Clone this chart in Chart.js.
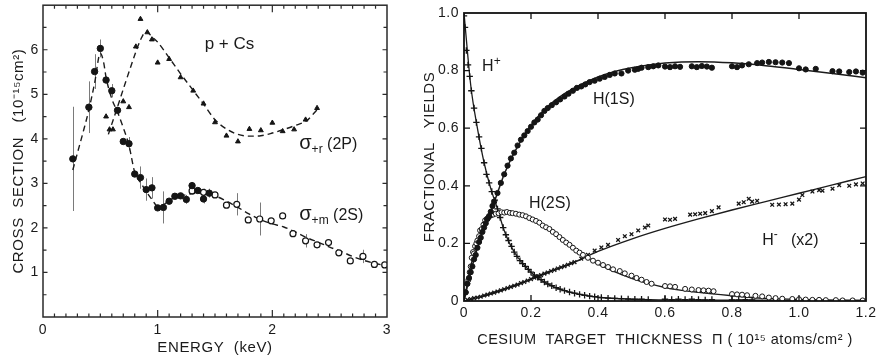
<!DOCTYPE html>
<html>
<head>
<meta charset="utf-8">
<script src="https://cdn.jsdelivr.net/npm/chart.js@4/dist/chart.umd.min.js"></script>
<style>
  html, body { margin: 0; padding: 0; background: #fff; }
  #wrap { position: relative; width: 879px; height: 360px; overflow: hidden; background: #fff; }
  #left { position: absolute; left: 0; top: 0; }
  #right { position: absolute; left: 420px; top: 0; }
</style>
</head>
<body>
<div id="wrap">
  <canvas id="left" width="420" height="360"></canvas>
  <canvas id="right" width="459" height="360"></canvas>
</div>
<script>
// ---------- p + Cs cross sections (energy keV, 10^-15 cm^2, +/- error) ----------
const sigma2sLow = [
  [0.26, 3.55, 1.17], [0.40, 4.71, 0.58], [0.45, 5.51, 0.39], [0.50, 6.03, 0.20],
  [0.55, 5.32, null], [0.60, 5.08, 0.15], [0.65, 4.64, null], [0.70, 3.94, null],
  [0.75, 3.89, 0.15], [0.80, 3.21, null], [0.85, 3.13, 0.25], [0.90, 2.86, 0.25],
  [0.95, 2.90, 0.24], [1.00, 2.45, null], [1.05, 2.46, 0.36], [1.10, 2.60, null],
  [1.15, 2.71, null], [1.20, 2.72, null], [1.25, 2.64, 0.10], [1.30, 2.95, 0.08],
  [1.35, 2.84, null], [1.40, 2.65, 0.10], [1.45, 2.78, 0.10]
];
const sigma2sHigh = [
  [1.30, 2.83, 0.08], [1.40, 2.80, 0.08], [1.50, 2.74, null], [1.60, 2.51, null],
  [1.69, 2.53, 0.25], [1.79, 2.18, null], [1.89, 2.20, 0.37], [1.99, 2.16, null],
  [2.09, 2.27, null], [2.18, 1.87, null], [2.29, 1.71, 0.15], [2.39, 1.62, null],
  [2.49, 1.67, null], [2.58, 1.44, null], [2.68, 1.26, null], [2.79, 1.36, 0.15],
  [2.89, 1.18, null], [2.98, 1.17, null]
];
const sigma2sFit = [
  [0.26, 3.30], [0.30, 3.68], [0.35, 4.15], [0.40, 4.65], [0.45, 5.25], [0.50, 5.92],
  [0.53, 5.70], [0.55, 5.38], [0.60, 4.90], [0.65, 4.60], [0.70, 4.25], [0.75, 3.85],
  [0.80, 3.25], [0.85, 3.02], [0.90, 2.82], [0.95, 2.64], [1.00, 2.49], [1.05, 2.52],
  [1.10, 2.62], [1.20, 2.71], [1.30, 2.77], [1.40, 2.78], [1.50, 2.72], [1.60, 2.60],
  [1.70, 2.46], [1.80, 2.31], [1.90, 2.18], [2.00, 2.09], [2.10, 2.02], [2.20, 1.91],
  [2.30, 1.78], [2.40, 1.68], [2.50, 1.57], [2.60, 1.47], [2.70, 1.36], [2.80, 1.27],
  [2.90, 1.20], [3.00, 1.15]
];
const sigma2p = [
  [0.55, 4.50], [0.58, 4.21], [0.61, 4.21], [0.70, 4.84], [0.75, 4.71], [0.81, 6.07],
  [0.85, 6.69], [0.91, 6.39], [0.95, 6.23], [1.00, 5.71], [1.10, 5.79], [1.20, 5.38],
  [1.31, 5.08], [1.40, 4.79], [1.50, 4.37], [1.60, 4.07], [1.70, 3.94], [1.80, 4.22],
  [1.90, 4.19], [2.00, 4.36], [2.09, 4.17], [2.19, 4.21], [2.29, 4.43], [2.39, 4.69]
];
const sigma2pFit = [
  [0.57, 4.10], [0.65, 4.72], [0.72, 5.27], [0.80, 5.88], [0.85, 6.22], [0.90, 6.41],
  [0.95, 6.29], [1.00, 6.17], [1.10, 5.82], [1.20, 5.46], [1.30, 5.12], [1.40, 4.78],
  [1.50, 4.43], [1.60, 4.22], [1.70, 4.10], [1.80, 4.06], [1.90, 4.07], [2.00, 4.13],
  [2.10, 4.21], [2.20, 4.30], [2.30, 4.41], [2.40, 4.68]
];
const energyTicks = [0, 1, 2, 3];
const sectionTicks = [1, 2, 3, 4, 5, 6];

// ---------- fractional yields vs Cs target thickness (10^15 atoms/cm^2) ----------
const hPlus = [
  [0.000, 0.99], [0.003, 0.95], [0.007, 0.87], [0.012, 0.82], [0.017, 0.78], [0.022, 0.73],
  [0.030, 0.67], [0.037, 0.62], [0.045, 0.57], [0.052, 0.53], [0.060, 0.48], [0.067, 0.44],
  [0.075, 0.41], [0.083, 0.38], [0.092, 0.35], [0.100, 0.32], [0.108, 0.29], [0.117, 0.255],
  [0.125, 0.23], [0.133, 0.21], [0.142, 0.19], [0.150, 0.17], [0.158, 0.155], [0.167, 0.14],
  [0.175, 0.13], [0.183, 0.12], [0.192, 0.11], [0.200, 0.10], [0.210, 0.09], [0.220, 0.082],
  [0.230, 0.074], [0.240, 0.066], [0.250, 0.059], [0.262, 0.053], [0.275, 0.046], [0.287, 0.041],
  [0.300, 0.036], [0.315, 0.031], [0.330, 0.027], [0.345, 0.023], [0.360, 0.020], [0.375, 0.017],
  [0.390, 0.015], [0.410, 0.012], [0.430, 0.010], [0.450, 0.009], [0.470, 0.008], [0.490, 0.007],
  [0.510, 0.006], [0.530, 0.006], [0.550, 0.005], [0.600, 0.006], [0.620, 0.005], [0.640, 0.006],
  [0.660, 0.005], [0.680, 0.006], [0.700, 0.005], [0.720, 0.004], [0.740, 0.005], [0.800, 0.004],
  [0.820, 0.004], [0.840, 0.005], [0.860, 0.004]
];
const hPlusFit = [
  [0, 1.00], [0.02, 0.75], [0.04, 0.60], [0.06, 0.48], [0.08, 0.39], [0.10, 0.32], [0.12, 0.245],
  [0.15, 0.17], [0.20, 0.10], [0.25, 0.059], [0.30, 0.036], [0.35, 0.022], [0.40, 0.013],
  [0.50, 0.006], [0.60, 0.004], [0.80, 0.003], [1.00, 0.002], [1.20, 0.002]
];
const h1s = [
  [0.005, 0.03], [0.010, 0.06], [0.015, 0.08], [0.020, 0.10], [0.025, 0.12], [0.030, 0.145],
  [0.035, 0.16], [0.040, 0.185], [0.045, 0.205], [0.050, 0.22], [0.055, 0.24], [0.060, 0.255],
  [0.065, 0.27], [0.070, 0.285], [0.075, 0.295], [0.080, 0.31], [0.085, 0.33], [0.090, 0.345],
  [0.100, 0.375], [0.110, 0.41], [0.120, 0.44], [0.130, 0.47], [0.140, 0.495], [0.150, 0.515],
  [0.160, 0.54], [0.170, 0.56], [0.180, 0.575], [0.190, 0.59], [0.200, 0.605], [0.210, 0.62],
  [0.220, 0.63], [0.230, 0.645], [0.240, 0.66], [0.250, 0.67], [0.262, 0.68], [0.275, 0.69],
  [0.287, 0.70], [0.300, 0.71], [0.312, 0.72], [0.325, 0.73], [0.337, 0.74], [0.350, 0.745],
  [0.362, 0.752], [0.375, 0.76], [0.390, 0.765], [0.405, 0.772], [0.420, 0.778], [0.435, 0.785],
  [0.450, 0.79], [0.470, 0.79], [0.490, 0.80], [0.510, 0.803], [0.520, 0.806], [0.530, 0.81],
  [0.550, 0.812], [0.565, 0.815], [0.580, 0.818], [0.600, 0.814], [0.615, 0.812], [0.630, 0.815],
  [0.645, 0.813], [0.680, 0.815], [0.695, 0.812], [0.710, 0.816], [0.725, 0.814], [0.740, 0.81],
  [0.800, 0.815], [0.815, 0.812], [0.830, 0.818], [0.850, 0.822], [0.875, 0.826], [0.890, 0.828],
  [0.910, 0.83], [0.930, 0.829], [0.950, 0.828], [0.970, 0.826], [1.000, 0.808], [1.020, 0.804],
  [1.050, 0.806], [1.100, 0.798], [1.120, 0.797], [1.150, 0.795], [1.170, 0.797], [1.190, 0.793]
];
const h1sFit = [
  [0, 0], [0.02, 0.10], [0.04, 0.185], [0.06, 0.255], [0.08, 0.31], [0.10, 0.375], [0.12, 0.44],
  [0.15, 0.515], [0.20, 0.61], [0.25, 0.675], [0.30, 0.72], [0.35, 0.752], [0.40, 0.778],
  [0.45, 0.797], [0.50, 0.81], [0.60, 0.826], [0.70, 0.831], [0.80, 0.827], [0.90, 0.817],
  [1.00, 0.804], [1.10, 0.79], [1.20, 0.775]
];
const h2s = [
  [0.005, 0.03], [0.010, 0.06], [0.013, 0.073], [0.017, 0.10], [0.020, 0.12], [0.023, 0.15],
  [0.027, 0.17], [0.030, 0.165], [0.033, 0.19], [0.037, 0.20], [0.040, 0.21], [0.045, 0.225],
  [0.048, 0.245], [0.053, 0.25], [0.058, 0.265], [0.063, 0.28], [0.068, 0.285], [0.073, 0.29],
  [0.080, 0.297], [0.087, 0.30], [0.095, 0.303], [0.103, 0.305], [0.112, 0.308], [0.120, 0.307],
  [0.128, 0.309], [0.137, 0.306], [0.145, 0.305], [0.155, 0.303], [0.165, 0.30], [0.175, 0.298],
  [0.185, 0.294], [0.195, 0.288], [0.205, 0.283], [0.215, 0.278], [0.225, 0.272], [0.235, 0.262],
  [0.245, 0.256], [0.255, 0.25], [0.265, 0.24], [0.275, 0.232], [0.285, 0.222], [0.295, 0.212],
  [0.305, 0.203], [0.315, 0.195], [0.325, 0.185], [0.335, 0.175], [0.345, 0.168], [0.355, 0.16],
  [0.370, 0.15], [0.385, 0.14], [0.400, 0.133], [0.415, 0.125], [0.430, 0.118], [0.445, 0.11],
  [0.465, 0.104], [0.480, 0.096], [0.500, 0.088], [0.515, 0.08], [0.530, 0.074], [0.545, 0.066],
  [0.560, 0.06], [0.600, 0.052], [0.615, 0.051], [0.630, 0.049], [0.660, 0.042], [0.680, 0.040],
  [0.700, 0.038], [0.715, 0.037], [0.730, 0.036], [0.745, 0.034], [0.800, 0.024], [0.815, 0.023],
  [0.830, 0.022], [0.845, 0.020], [0.870, 0.018], [0.890, 0.016], [0.910, 0.012], [0.930, 0.010],
  [0.950, 0.008], [0.980, 0.007], [1.000, 0.006], [1.020, 0.005], [1.040, 0.004], [1.060, 0.004],
  [1.080, 0.003], [1.110, 0.003], [1.130, 0.002], [1.160, 0.002], [1.190, 0.002]
];
const h2sFit = [
  [0, 0], [0.01, 0.06], [0.02, 0.12], [0.03, 0.165], [0.04, 0.205], [0.05, 0.238], [0.06, 0.263],
  [0.07, 0.282], [0.08, 0.295], [0.10, 0.304], [0.12, 0.307], [0.14, 0.305], [0.16, 0.300],
  [0.18, 0.293], [0.20, 0.283], [0.22, 0.271], [0.24, 0.257], [0.26, 0.241], [0.28, 0.224],
  [0.30, 0.207], [0.32, 0.190], [0.34, 0.172], [0.36, 0.156], [0.38, 0.141], [0.40, 0.128],
  [0.43, 0.112], [0.46, 0.097], [0.50, 0.079], [0.55, 0.061], [0.60, 0.047], [0.65, 0.037],
  [0.70, 0.030], [0.75, 0.024], [0.80, 0.018], [0.85, 0.013], [0.90, 0.009], [1.00, 0.005],
  [1.10, 0.003], [1.20, 0.002]
];
const hMinus = [
  [0.010, 0.004], [0.020, 0.007], [0.030, 0.010], [0.040, 0.012], [0.050, 0.015], [0.060, 0.019],
  [0.070, 0.022], [0.080, 0.026], [0.090, 0.029], [0.100, 0.033], [0.110, 0.037], [0.120, 0.041],
  [0.130, 0.045], [0.140, 0.049], [0.150, 0.053], [0.160, 0.057], [0.170, 0.062], [0.180, 0.066],
  [0.190, 0.071], [0.200, 0.076], [0.210, 0.081], [0.220, 0.086], [0.230, 0.090], [0.240, 0.095],
  [0.250, 0.099], [0.260, 0.104], [0.270, 0.108], [0.280, 0.113], [0.290, 0.117], [0.300, 0.121],
  [0.310, 0.126], [0.320, 0.131], [0.330, 0.135], [0.350, 0.147], [0.370, 0.160], [0.390, 0.175],
  [0.410, 0.186], [0.430, 0.195], [0.460, 0.212], [0.480, 0.225], [0.500, 0.232], [0.520, 0.245],
  [0.540, 0.255], [0.550, 0.262], [0.600, 0.283], [0.615, 0.282], [0.630, 0.285], [0.675, 0.300],
  [0.690, 0.301], [0.705, 0.303], [0.720, 0.305], [0.740, 0.312], [0.760, 0.325], [0.820, 0.338],
  [0.835, 0.343], [0.850, 0.355], [0.860, 0.345], [0.875, 0.348], [0.920, 0.334], [0.940, 0.335],
  [0.960, 0.336], [0.980, 0.338], [1.000, 0.352], [1.010, 0.368], [1.040, 0.380], [1.060, 0.385],
  [1.070, 0.383], [1.100, 0.390], [1.120, 0.402], [1.150, 0.400], [1.170, 0.405], [1.190, 0.408]
];
const hMinusFit = [
  [0, 0], [0.05, 0.015], [0.10, 0.033], [0.15, 0.053], [0.20, 0.076], [0.25, 0.099], [0.30, 0.121],
  [0.35, 0.145], [0.40, 0.172], [0.50, 0.215], [0.60, 0.252], [0.70, 0.285], [0.80, 0.316],
  [0.90, 0.345], [1.00, 0.374], [1.10, 0.403], [1.20, 0.432]
];
const thicknessTicks = [0, 0.2, 0.4, 0.6, 0.8, 1.0, 1.2];
const yieldTicks = [0, 0.2, 0.4, 0.6, 0.8, 1.0];

// ---------- shared drawing helpers ----------
const FAMILY = "'Liberation Sans', Arial, Helvetica, sans-serif";
const INK = '#1a1a1a';
Chart.defaults.font.family = FAMILY;
Chart.defaults.color = INK;

const pts = arr => arr.map(p => ({ x: p[0], y: p[1] }));
const errs = arr => arr.map(p => p[2]);
const fixedTicks = list => scale => { scale.ticks = list.map(v => ({ value: v })); };
// fixed axis thickness; the layout padding already leaves room for the edge labels
const fixedSize = (prop, size) => scale => {
  scale[prop] = size;
  scale.paddingTop = scale.paddingBottom = scale.paddingLeft = scale.paddingRight = 0;
};

// frame with inward tick marks on all four sides
function drawFrame(chart, f) {
  const { ctx, chartArea: a, scales: { x, y } } = chart;
  ctx.save();
  ctx.setLineDash([]);
  ctx.strokeStyle = f.color;
  ctx.lineWidth = f.width;
  ctx.strokeRect(a.left, a.top, a.right - a.left, a.bottom - a.top);
  ctx.lineWidth = f.tickWidth;
  ctx.beginPath();
  const marks = (scale, step, len, horiz) => {
    const n = Math.round((scale.max - scale.min) / step);
    for (let i = 1; i < n; i++) {
      const p = scale.getPixelForValue(scale.min + i * step);
      if (horiz) {
        ctx.moveTo(p, a.bottom); ctx.lineTo(p, a.bottom - len);
        ctx.moveTo(p, a.top); ctx.lineTo(p, a.top + len);
      } else {
        ctx.moveTo(a.left, p); ctx.lineTo(a.left + len, p);
        ctx.moveTo(a.right, p); ctx.lineTo(a.right - len, p);
      }
    }
  };
  if (f.xMinor) marks(x, f.xMinor, f.xMinorLen, true);
  marks(x, f.xMajor, f.xMajorLen, true);
  if (f.yMinor) marks(y, f.yMinor, f.yMinorLen, false);
  marks(y, f.yMajor, f.yMajorLen, false);
  ctx.stroke();
  ctx.restore();
}

function drawErrors(chart, color) {
  const { ctx, scales: { x, y } } = chart;
  ctx.save();
  ctx.strokeStyle = color;
  ctx.lineWidth = 1;
  chart.data.datasets.forEach(ds => {
    if (!ds.errors) return;
    ds.data.forEach((p, i) => {
      const e = ds.errors[i];
      if (e == null) return;
      const px = Math.round(x.getPixelForValue(p.x)) + 0.5;
      ctx.beginPath();
      ctx.moveTo(px, y.getPixelForValue(p.y + e));
      ctx.lineTo(px, y.getPixelForValue(p.y - e));
      ctx.stroke();
    });
  });
  ctx.restore();
}

function drawNotes(chart, notes) {
  const { ctx, scales: { x, y } } = chart;
  ctx.save();
  ctx.letterSpacing = '0px';
  ctx.fillStyle = INK;
  ctx.textAlign = 'left';
  ctx.textBaseline = 'alphabetic';
  notes.forEach(n => {
    let px = x.getPixelForValue(n.x);
    const py = y.getPixelForValue(n.y);
    n.runs.forEach(r => {
      ctx.font = `${r.size}px ${FAMILY}`;
      ctx.fillText(r.t, px, py + (r.dy || 0));
      px += ctx.measureText(r.t).width;
    });
  });
  ctx.restore();
}

const paperPlugin = (frame, notes, errColor, spacing) => ({
  id: 'paper',
  beforeDraw(chart) { chart.ctx.letterSpacing = spacing; },
  beforeDatasetsDraw(chart) { drawErrors(chart, errColor); },
  afterDraw(chart) {
    drawFrame(chart, frame);
    drawNotes(chart, notes);
  }
});

const markers = (data, style, radius, fill, extra) => Object.assign({
  data: pts(data), showLine: false, pointStyle: style, pointRadius: radius,
  pointBackgroundColor: fill, pointBorderColor: '#151515', pointBorderWidth: 1
}, extra || {});
const curve = (data, dash, width) => ({
  data: pts(data), showLine: true, pointRadius: 0, borderColor: '#1c1c1c',
  borderWidth: width, borderDash: dash, cubicInterpolationMode: 'monotone', fill: false
});
const quietGrid = { display: false, drawTicks: false };

// ---------- left: p + Cs excitation cross sections ----------
new Chart(document.getElementById('left'), {
  type: 'scatter',
  data: {
    datasets: [
      markers(sigma2sLow, 'circle', 3.2, '#151515', { errors: errs(sigma2sLow) }),
      markers(sigma2sHigh, 'circle', 3.0, '#ffffff', { errors: errs(sigma2sHigh), pointBorderWidth: 1.2 }),
      markers(sigma2p, 'triangle', 2.8, '#151515'),
      curve(sigma2sFit, [6, 4], 1.4),
      curve(sigma2pFit, [6, 4], 1.4)
    ]
  },
  options: {
    responsive: false, animation: false, devicePixelRatio: 1, events: [],
    layout: { padding: { left: 0, right: 33, top: 5, bottom: 0 } },
    plugins: { legend: { display: false }, tooltip: { enabled: false } },
    scales: {
      x: {
        type: 'linear', min: 0, max: 3,
        afterBuildTicks: fixedTicks(energyTicks),
        afterFit: fixedSize('height', 43),
        grid: quietGrid, border: { display: false },
        ticks: { padding: 5, font: { size: 14 }, maxRotation: 0, callback: v => String(v) },
        title: { display: true, text: 'ENERGY  (keV)', font: { size: 15 }, padding: { top: 0, bottom: 3 } }
      },
      y: {
        type: 'linear', min: 0, max: 7,
        afterBuildTicks: fixedTicks(sectionTicks),
        afterFit: fixedSize('width', 43),
        grid: quietGrid, border: { display: false },
        ticks: { padding: 4, font: { size: 14 }, callback: v => String(v) },
        title: { display: true, text: 'CROSS  SECTION   (10⁻¹⁵cm²)', font: { size: 15 }, padding: { top: 10, bottom: 0 } }
      }
    }
  },
  plugins: [paperPlugin(
    { color: '#2a2a2a', width: 1.5, tickWidth: 1.2,
      xMajor: 1, xMinor: 0.1, xMajorLen: 7, xMinorLen: 3.5,
      yMajor: 1, yMinor: 0.5, yMajorLen: 4.5, yMinorLen: 3.5 },
    [
      { x: 1.41, y: 6.02, runs: [{ t: 'p + Cs', size: 17 }] },
      { x: 2.235, y: 3.78, runs: [{ t: 'σ', size: 20 }, { t: '+r', size: 12, dy: 4 }, { t: ' (2P)', size: 16 }] },
      { x: 2.235, y: 2.17, runs: [{ t: 'σ', size: 20 }, { t: '+m', size: 12, dy: 4 }, { t: ' (2S)', size: 16 }] }
    ],
    '#7a7a7a', '0.6px'
  )]
});

// ---------- right: charge and excited-state fractions ----------
new Chart(document.getElementById('right'), {
  type: 'scatter',
  data: {
    datasets: [
      markers(hPlus, 'cross', 3.2, '#151515', { pointBorderWidth: 1.3 }),
      markers(h1s, 'circle', 2.6, '#151515'),
      markers(h2s, 'circle', 2.5, '#ffffff'),
      markers(hMinus, 'crossRot', 2.6, '#151515', { pointBorderWidth: 1.3 }),
      curve(hPlusFit, [], 1.3),
      curve(h1sFit, [], 1.5),
      curve(h2sFit, [], 1.4),
      curve(hMinusFit, [], 1.4)
    ]
  },
  options: {
    responsive: false, animation: false, devicePixelRatio: 1, events: [],
    layout: { padding: { left: 0, right: 13, top: 13, bottom: 0 } },
    plugins: { legend: { display: false }, tooltip: { enabled: false } },
    scales: {
      x: {
        type: 'linear', min: 0, max: 1.2,
        afterBuildTicks: fixedTicks(thicknessTicks),
        afterFit: fixedSize('height', 59),
        grid: quietGrid, border: { display: false },
        ticks: { padding: 4, font: { size: 14 }, maxRotation: 0, callback: v => v === 0 ? '0' : v.toFixed(1) },
        title: { display: true, text: 'CESIUM  TARGET  THICKNESS  Π ( 10¹⁵ atoms/cm² )', font: { size: 14.5 }, padding: { top: 0, bottom: 11 } }
      },
      y: {
        type: 'linear', min: 0, max: 1.0,
        afterBuildTicks: fixedTicks(yieldTicks),
        afterFit: fixedSize('width', 44),
        grid: quietGrid, border: { display: false },
        ticks: { padding: 5, font: { size: 14 }, callback: v => v === 0 ? '0' : v.toFixed(1) },
        title: { display: true, text: 'FRACTIONAL   YIELDS', font: { size: 15 }, padding: { top: 1, bottom: 0 } }
      }
    }
  },
  plugins: [paperPlugin(
    { color: '#111', width: 1.8, tickWidth: 1.3,
      xMajor: 0.2, xMajorLen: 6, yMajor: 0.2, yMajorLen: 6 },
    [
      { x: 0.054, y: 0.799, runs: [{ t: 'H', size: 16 }, { t: '+', size: 12, dy: -6 }] },
      { x: 0.385, y: 0.684, runs: [{ t: 'H(1S)', size: 16 }] },
      { x: 0.194, y: 0.323, runs: [{ t: 'H(2S)', size: 16 }] },
      { x: 0.89, y: 0.194, runs: [{ t: 'H', size: 16 }, { t: '-', size: 12, dy: -7 }, { t: '   (x2)', size: 16 }] }
    ],
    '#7a7a7a', '0.5px'
  )]
});
</script>
</body>
</html>
